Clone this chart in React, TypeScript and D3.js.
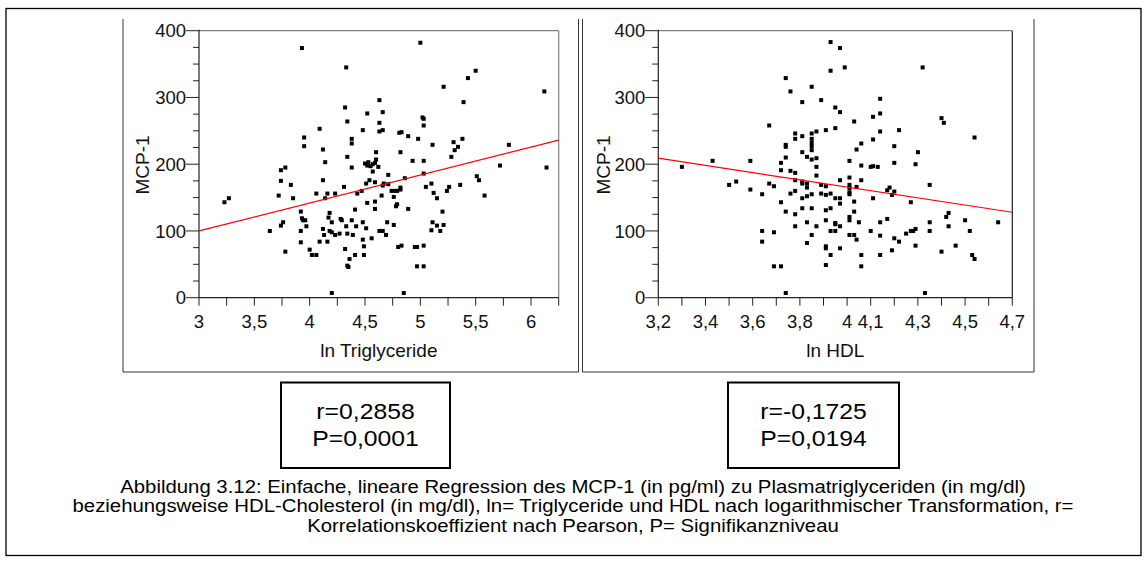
import React from "react";
import * as d3 from "d3";

// ---------- DATA ----------
const triglyceridePoints: [number, number][] = [
  [3.93,374],[5.0,382],[4.33,345],[5.5,340],[5.43,329],[5.21,316],[6.12,309],[4.63,296],[5.39,293],[4.32,285],
  [4.66,278],[4.52,276],[5.02,270],[5.03,268],[4.34,264],[4.63,262],[5.03,258],[4.09,253],[4.48,251],[4.66,251],
  [4.63,249],[4.81,247],[4.83,248],[4.89,242],[4.98,238],[3.95,240],[4.38,238],[5.38,238],[4.38,231],[5.3,233],
  [5.11,229],[5.8,229],[5.34,226],[3.95,227],[5.31,221],[4.12,222],[4.6,218],[4.82,218],[4.34,211],[5.28,211],
  [4.6,207],[4.59,202],[4.57,200],[4.53,203],[4.5,201],[4.55,197],[4.62,196],[4.52,198],
  [4.93,205],[5.03,205],[4.14,203],[3.74,191],[3.78,195],[4.38,195],[5.72,198],[6.14,195],[4.57,189],[5.03,186],
  [4.71,184],[5.51,182],[5.53,176],[4.86,179],[3.74,175],[4.12,176],[4.54,176],[4.59,173],[4.51,171],[4.67,171],
  [5.1,171],[3.83,169],[4.31,166],[5.36,169],[5.05,166],[5.26,166],[5.24,160],[4.66,168],[4.71,170],[4.82,165],
  [4.82,162],[4.74,160],[4.77,160],[4.79,160],[4.47,160],
  [3.23,143],[3.27,149],[3.72,153],[3.85,149],[4.06,156],[4.16,156],[4.23,156],[4.14,149],[4.43,156],[4.65,153],
  [4.59,144],[4.52,142],[4.59,133],[4.76,151],[4.79,140],[4.78,137],[4.89,133],[4.41,132],[3.92,129],[3.93,119],
  [3.94,116],[3.96,116],[4.18,127],[4.17,120],[4.2,113],[4.28,118],[4.29,116],[4.38,116],[3.76,113],[3.74,108],
  [3.92,100],[3.97,107],[4.12,103],[4.13,94],[4.18,100],[4.2,98],[4.23,94],[4.27,96],[4.33,107],[4.42,107],
  [4.34,96],[4.39,94],[4.48,113],[4.51,104],[4.63,100],[4.66,100],[4.7,113],[4.69,94],[4.76,109],[4.48,87],
  [4.56,89],[3.64,100],[3.92,83],[4.09,84],[4.16,84],[4.0,72],[4.02,64],[4.06,64],[3.78,69],[4.32,73],
  [4.36,58],[4.34,48],[4.35,46],[4.41,64],[4.49,77],[4.49,64],[4.8,76],[4.83,78],[4.95,76],[4.97,76],
  [5.03,78],[4.97,47],[5.03,47],[4.2,7],[4.85,7],[5.11,113],[5.1,101],[5.15,108],[5.18,100],[5.2,129],
  [5.21,109],[5.12,157],[5.15,149],[5.58,153],
];

const hdlPoints: [number, number][] = [
  [3.93,383],[3.97,374],[3.93,340],[3.99,345],[4.32,345],[3.74,329],[3.76,309],[3.85,316],[3.81,293],[3.89,296],
  [4.14,298],[3.95,285],[3.97,278],[4.14,276],[4.11,271],[4.4,269],[4.41,262],[4.03,264],[3.67,258],[3.95,254],
  [3.91,251],[3.87,249],[3.85,246],[3.78,246],[4.14,249],[4.22,251],[4.54,240],[3.81,242],[3.78,238],[3.85,238],
  [3.85,232],[3.85,227],[3.85,221],[3.74,229],[3.74,226],[4.06,231],[4.11,237],[4.04,222],[4.2,227],[4.3,218],
  [3.81,218],[3.83,211],[3.74,210],[3.85,207],[3.87,209],[4.01,205],[4.2,202],[4.29,200],[3.72,202],[3.59,205],
  [3.43,205],[3.3,196],[3.87,196],[4.06,198],[4.1,196],[4.11,197],[4.13,196],[3.72,191],[3.76,190],[3.78,187],
  [3.87,183],[4.01,180],[3.53,174],[3.5,169],[3.67,171],[3.69,167],[3.59,162],[3.78,176],[3.81,174],[3.81,171],
  [3.83,171],[3.83,165],[3.89,169],[3.91,167],[3.97,176],[4.06,176],[4.01,169],[4.01,164],[4.04,166],[4.35,169],
  [4.17,161],[4.18,165],[4.2,159],[3.64,155],[3.76,156],[3.78,160],[3.85,155],[3.89,156],[3.93,156],[4.01,155],
  [4.01,158],[4.19,154],[3.72,143],[3.81,149],[3.83,152],[3.91,154],[3.95,149],[3.97,149],[3.97,141],[4.03,144],
  [4.11,149],[4.27,143],[3.74,129],[3.78,125],[3.81,134],[3.85,134],[3.91,131],[3.93,134],[4.03,129],[4.01,121],
  [4.01,116],[3.78,107],[3.83,113],[3.87,107],[3.91,116],[3.95,112],[3.95,110],[3.97,107],[4.05,113],[4.17,118],
  [4.14,113],[4.35,113],[4.42,121],[4.43,127],[4.43,107],[4.5,116],[4.64,113],[3.64,100],[3.64,84],[3.69,98],
  [3.85,94],[3.83,82],[3.93,100],[3.95,100],[4.01,94],[4.03,94],[4.04,87],[4.1,100],[4.14,93],[4.2,89],
  [4.22,84],[4.25,96],[4.27,100],[4.28,100],[4.29,103],[4.35,100],[4.52,100],[3.91,77],[3.91,74],[3.97,74],
  [4.29,78],[4.46,78],[3.93,64],[4.06,64],[4.14,64],[4.19,71],[4.4,69],[4.53,64],[4.54,58],[3.69,47],
  [3.72,47],[3.91,49],[4.06,47],[3.74,7],[4.33,7],
];

const tgRegression: [number, number][] = [[3, 100], [6.25, 236]];
const hdlRegression: [number, number][] = [[3.2, 209], [4.7, 128]];

const tgXDomain: [number, number] = [3, 6.25];
const hdlXDomain: [number, number] = [3.2, 4.7];
const yDomain: [number, number] = [0, 400];

const tgXMinorTicks = [3, 3.25, 3.5, 3.75, 4, 4.25, 4.5, 4.75, 5, 5.25, 5.5, 5.75, 6, 6.25];
const tgXLabelTicks = [3, 3.5, 4, 4.5, 5, 5.5, 6];
const hdlXMinorTicks = [3.2, 3.3, 3.4, 3.5, 3.6, 3.7, 3.8, 3.9, 4.0, 4.1, 4.2, 4.3, 4.4, 4.5, 4.6, 4.7];
const hdlXLabelTicks = [3.2, 3.4, 3.6, 3.8, 4.0, 4.1, 4.3, 4.5, 4.7];
const yMinorTicks = [0, 25, 50, 75, 100, 125, 150, 175, 200, 225, 250, 275, 300, 325, 350, 375, 400];
const yLabelTicks = [0, 100, 200, 300, 400];

const yTitle = "MCP-1";
const tgXTitle = "ln Triglyceride";
const hdlXTitle = "ln HDL";
const tgStats = ["r=0,2858", "P=0,0001"];
const hdlStats = ["r=-0,1725", "P=0,0194"];
const captionLines = [
  "Abbildung 3.12: Einfache, lineare Regression des MCP-1 (in pg/ml) zu Plasmatriglyceriden (in mg/dl)",
  "beziehungsweise HDL-Cholesterol (in mg/dl), ln= Triglyceride und HDL nach logarithmischer Transformation, r=",
  "Korrelationskoeffizient nach Pearson, P= Signifikanzniveau",
];

// ---------- LAYOUT ----------
const FONT = "'Liberation Sans', Arial, Helvetica, sans-serif";
const fmt = (v: number) => (Math.abs(v - Math.round(v)) < 1e-9 ? String(Math.round(v)) : String(+v.toFixed(2)).replace(".", ","));

type PlotProps = {
  points: [number, number][];
  regression: [number, number][];
  xDomain: [number, number];
  xRange: [number, number];
  xMinor: number[];
  xLabels: number[];
  xTitle: string;
  yTitleX: number;
  rightFrameColor: string;
};

const Y_RANGE: [number, number] = [297.7, 30.7];

function Scatter(p: PlotProps) {
  const x = d3.scaleLinear().domain(p.xDomain).range(p.xRange);
  const y = d3.scaleLinear().domain(yDomain).range(Y_RANGE);
  const line = d3.line<[number, number]>().x((d) => x(d[0])).y((d) => y(d[1]));
  const [x0, x1] = p.xRange;
  const [yb, yt] = Y_RANGE;
  const isLabel = (arr: number[], v: number) => arr.some((a) => Math.abs(a - v) < 1e-9);
  return (
    <g>
      <line x1={x0} x2={x1} y1={yt} y2={yt} stroke="#808080" strokeWidth={1.2} />
      <line x1={x1} x2={x1} y1={yt} y2={yb} stroke={p.rightFrameColor} strokeWidth={1.2} />
      <line x1={x0} x2={x0} y1={yt - 1} y2={yb} stroke="#222" strokeWidth={1.2} />
      <line x1={x0} x2={x1} y1={yb} y2={yb} stroke="#222" strokeWidth={1.2} />
      {yMinorTicks.map((v) => {
        const major = isLabel(yLabelTicks, v);
        return (
          <line key={"yt" + v} x1={x0 - (major ? 13 : 6)} x2={x0} y1={y(v)} y2={y(v)} stroke="#222" strokeWidth={1} />
        );
      })}
      {yLabelTicks.map((v) => (
        <text key={"yl" + v} x={x0 - 13} y={y(v)} dy="0.36em" textAnchor="end" fontSize={18.5} fontFamily={FONT} fill="#111">
          {fmt(v)}
        </text>
      ))}
      {p.xMinor.map((v) => (
        <line key={"xt" + v} x1={x(v)} x2={x(v)} y1={yb} y2={yb + 8} stroke="#222" strokeWidth={1} />
      ))}
      {p.xLabels.map((v) => (
        <text key={"xl" + v} x={x(v)} y={328.3} textAnchor="middle" fontSize={18.5} fontFamily={FONT} fill="#111">
          {fmt(v)}
        </text>
      ))}
      <text x={(x0 + x1) / 2} y={356.5} textAnchor="middle" fontSize={19} fontFamily={FONT} fill="#111">
        {p.xTitle}
      </text>
      <text
        transform={`translate(${p.yTitleX},165) rotate(-90)`}
        textAnchor="middle"
        fontSize={19}
        fontFamily={FONT}
        fill="#111"
      >
        {yTitle}
      </text>
      {p.points.map((d, i) => (
        <rect key={i} x={x(d[0]) - 2} y={y(d[1]) - 2} width={4} height={4} fill="#000" />
      ))}
      <path d={line(p.regression) || ""} stroke="#ff0000" strokeWidth={1.2} fill="none" />
    </g>
  );
}

function StatBox({ x0, x1, lines }: { x0: number; x1: number; lines: string[] }) {
  return (
    <g>
      <rect x={x0} y={382.5} width={x1 - x0} height={85.5} fill="#fff" stroke="#000" strokeWidth={2} />
      {lines.map((t, i) => (
        <text
          key={i}
          transform={`translate(${(x0 + x1) / 2},${418.5 + i * 27}) scale(1.1,1)`}
          textAnchor="middle"
          fontSize={22.5}
          fontFamily={FONT}
          fill="#000"
        >
          {t}
        </text>
      ))}
    </g>
  );
}

export default function App() {
  return (
    <svg width={1147} height={563} style={{ position: "absolute", left: 0, top: 0, background: "#fff" }}>
      <rect x={0} y={0} width={1147} height={563} fill="#fff" />
      <rect x={6} y={8.5} width={1135} height={547} fill="none" stroke="#000" strokeWidth={1.3} />
      <line x1={123} x2={123} y1={19} y2={372} stroke="#333" strokeWidth={1} />
      <line x1={123} x2={578.5} y1={372} y2={372} stroke="#333" strokeWidth={1} />
      <line x1={578.5} x2={578.5} y1={19} y2={372} stroke="#333" strokeWidth={1} />
      <line x1={582.5} x2={582.5} y1={19} y2={372} stroke="#333" strokeWidth={1} />
      <line x1={582.5} x2={1034} y1={372} y2={372} stroke="#333" strokeWidth={1} />
      <line x1={1034} x2={1034} y1={19} y2={372} stroke="#333" strokeWidth={1} />

      <Scatter
        points={triglyceridePoints}
        regression={tgRegression}
        xDomain={tgXDomain}
        xRange={[199, 558.7]}
        xMinor={tgXMinorTicks}
        xLabels={tgXLabelTicks}
        xTitle={tgXTitle}
        yTitleX={149}
        rightFrameColor="#808080"
      />
      <Scatter
        points={hdlPoints}
        regression={hdlRegression}
        xDomain={hdlXDomain}
        xRange={[658.3, 1012.3]}
        xMinor={hdlXMinorTicks}
        xLabels={hdlXLabelTicks}
        xTitle={hdlXTitle}
        yTitleX={610}
        rightFrameColor="#222"
      />

      <StatBox x0={281} x1={450} lines={tgStats} />
      <StatBox x0={728} x1={899} lines={hdlStats} />

      {captionLines.map((t, i) => (
        <text
          key={i}
          transform={`translate(573,${493 + i * 19.3}) scale(1.1,1)`}
          textAnchor="middle"
          fontSize={18.5}
          fontFamily={FONT}
          fill="#000"
        >
          {t}
        </text>
      ))}
    </svg>
  );
}
